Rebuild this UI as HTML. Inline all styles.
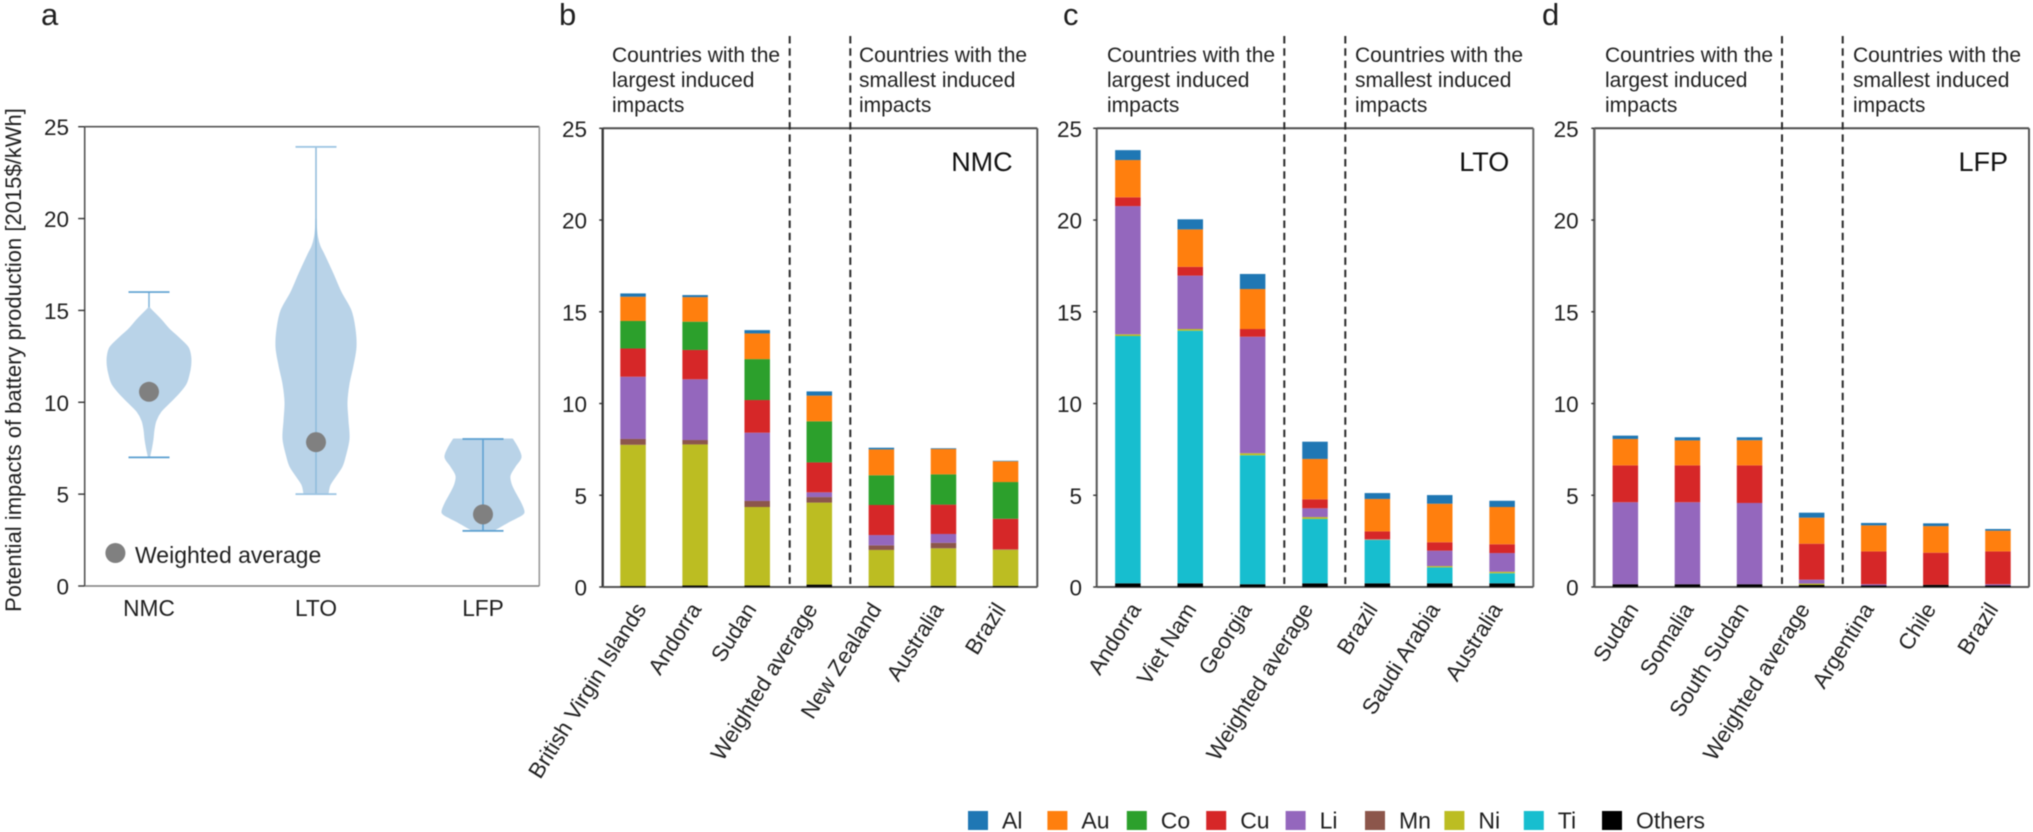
<!DOCTYPE html>
<html lang="en">
<head>
<meta charset="utf-8">
<title>Potential impacts of battery production</title>
<style>
html,body{margin:0;padding:0;background:#fff;}
svg{display:block;filter:blur(0.5px);}
text{font-family:"Liberation Sans",sans-serif;fill:#1f1f1f;}
</style>
</head>
<body>
<svg id="chart" xmlns="http://www.w3.org/2000/svg" width="2033" height="832" viewBox="0 0 2033 832">
  <rect width="2033" height="832" fill="#ffffff"/>
  <g id="static-text">
    <text x="41" y="25" font-size="31">a</text>
    <text x="559" y="25" font-size="31">b</text>
    <text x="1063" y="25" font-size="31">c</text>
    <text x="1542" y="25" font-size="31">d</text>
    <text transform="translate(21,360) rotate(-90)" text-anchor="middle" font-size="22">Potential impacts of battery production [2015$/kWh]</text>
    <text x="135" y="563" font-size="23">Weighted average</text>
    <g font-size="21">
      <text x="612" y="62">Countries with the</text><text x="612" y="87">largest induced</text><text x="612" y="112">impacts</text>
      <text x="859" y="62">Countries with the</text><text x="859" y="87">smallest induced</text><text x="859" y="112">impacts</text>
    </g>
    <g font-size="21">
      <text x="1107" y="62">Countries with the</text><text x="1107" y="87">largest induced</text><text x="1107" y="112">impacts</text>
      <text x="1355" y="62">Countries with the</text><text x="1355" y="87">smallest induced</text><text x="1355" y="112">impacts</text>
    </g>
    <g font-size="21">
      <text x="1605" y="62">Countries with the</text><text x="1605" y="87">largest induced</text><text x="1605" y="112">impacts</text>
      <text x="1853" y="62">Countries with the</text><text x="1853" y="87">smallest induced</text><text x="1853" y="112">impacts</text>
    </g>
    <text x="1012.7" y="171" text-anchor="end" font-size="27" style="fill:#111">NMC</text>
    <text x="1509.3" y="171" text-anchor="end" font-size="27" style="fill:#111">LTO</text>
    <text x="2008" y="171" text-anchor="end" font-size="27" style="fill:#111">LFP</text>
  </g>
</svg>
<script>
// Shared axis values
const yTicks = [0, 5, 10, 15, 20, 25];

// Panel a: violin plot
const violinCategories = ['NMC', 'LTO', 'LFP'];
const violinMin = [7, 5, 3];
const violinMax = [16, 23.9, 8];
const weightedAverages = [10.57, 7.83, 3.9];
const nmcDensityValues = [7, 7.5, 8, 8.5, 9, 9.5, 10, 10.5, 11, 11.5, 12, 12.5, 13, 13.5, 14, 14.5, 15, 15.15];
const nmcDensityWidths = [0.5, 2.5, 4, 5, 7, 12, 21, 30, 37, 40, 41.7, 41.7, 39, 30, 20, 12, 3, 0.5];
const ltoDensityValues = [5, 5.5, 6, 6.5, 7, 8, 9, 10, 11, 12, 13, 14, 15, 16, 17, 18, 18.5, 19, 19.5, 20];
const ltoDensityWidths = [12, 14, 20, 26, 29, 33, 32, 31, 33, 37, 40, 39, 35, 25, 17, 8.5, 4, 1.5, 0.5, 0.2];
const lfpDensityValues = [3, 3.5, 3.75, 4, 4.5, 5, 5.5, 6, 6.5, 7, 7.5, 8];
const lfpDensityWidths = [10, 26, 35, 41, 38, 33, 28.5, 27, 32, 38, 35, 29.5];

// Panel b: NMC
const nmcCountries = ['British Virgin Islands', 'Andorra', 'Sudan', 'Weighted average', 'New Zealand', 'Australia', 'Brazil'];
const nmcOthers = [0.05, 0.08, 0.08, 0.13, 0.06, 0.06, 0.06];
const nmcTi = [0, 0, 0, 0, 0, 0, 0];
const nmcNi = [7.7, 7.69, 4.28, 4.47, 1.96, 2.05, 1.97];
const nmcMn = [0.32, 0.24, 0.33, 0.3, 0.25, 0.3, 0.02];
const nmcLi = [3.39, 3.31, 3.72, 0.26, 0.56, 0.48, 0];
const nmcCu = [1.54, 1.6, 1.78, 1.63, 1.64, 1.6, 1.67];
const nmcCo = [1.5, 1.54, 2.23, 2.24, 1.62, 1.65, 2.0];
const nmcAu = [1.32, 1.34, 1.4, 1.4, 1.41, 1.38, 1.13];
const nmcAl = [0.18, 0.11, 0.18, 0.23, 0.09, 0.04, 0.03];

// Panel c: LTO
const ltoCountries = ['Andorra', 'Viet Nam', 'Georgia', 'Weighted average', 'Brazil', 'Saudi Arabia', 'Australia'];
const ltoOthers = [0.2, 0.2, 0.15, 0.2, 0.2, 0.2, 0.2];
const ltoTi = [13.48, 13.77, 7.03, 3.51, 2.36, 0.87, 0.55];
const ltoNi = [0.09, 0.09, 0.11, 0.1, 0.02, 0.07, 0.08];
const ltoMn = [0, 0, 0, 0, 0, 0, 0];
const ltoLi = [6.99, 2.91, 6.35, 0.48, 0.02, 0.84, 1.02];
const ltoCu = [0.48, 0.48, 0.42, 0.49, 0.43, 0.46, 0.48];
const ltoCo = [0, 0, 0, 0, 0, 0, 0];
const ltoAu = [2.03, 2.04, 2.18, 2.2, 1.77, 2.1, 2.03];
const ltoAl = [0.54, 0.55, 0.82, 0.94, 0.32, 0.47, 0.34];

// Panel d: LFP
const lfpCountries = ['Sudan', 'Somalia', 'South Sudan', 'Weighted average', 'Argentina', 'Chile', 'Brazil'];
const lfpOthers = [0.15, 0.15, 0.15, 0.11, 0.08, 0.12, 0.08];
const lfpTi = [0, 0, 0, 0, 0, 0, 0];
const lfpNi = [0, 0, 0, 0.07, 0, 0, 0];
const lfpMn = [0, 0, 0, 0.01, 0, 0, 0];
const lfpLi = [4.47, 4.47, 4.43, 0.21, 0.07, 0, 0.07];
const lfpCu = [2.01, 2.01, 2.05, 1.96, 1.79, 1.75, 1.79];
const lfpCo = [0, 0, 0, 0, 0, 0, 0];
const lfpAu = [1.44, 1.36, 1.37, 1.42, 1.42, 1.45, 1.13];
const lfpAl = [0.18, 0.17, 0.16, 0.27, 0.13, 0.15, 0.09];

// Legend
const legendMaterials = ['Al', 'Au', 'Co', 'Cu', 'Li', 'Mn', 'Ni', 'Ti', 'Others'];

const NS = 'http://www.w3.org/2000/svg';
const svg = document.getElementById('chart');
const materialColors = {Al:'#1f77b4', Au:'#ff7f0e', Co:'#2ca02c', Cu:'#d62728', Li:'#9467bd', Mn:'#8c564b', Ni:'#bcbd22', Ti:'#17becf', Others:'#000000'};

function make(tag, attrs, parent) {
  const el = document.createElementNS(NS, tag);
  for (const k in attrs) el.setAttribute(k, attrs[k]);
  (parent || svg).appendChild(el);
  return el;
}
function slug(s) { return s.toLowerCase().replace(/[^a-z0-9]+/g, '-'); }

// Smooth curve (Catmull-Rom) through a list of points, continuing an open path
function smoothSegment(pts) {
  let d = '';
  for (let i = 0; i < pts.length - 1; i++) {
    const p0 = pts[Math.max(0, i - 1)], p1 = pts[i], p2 = pts[i + 1], p3 = pts[Math.min(pts.length - 1, i + 2)];
    const c1x = p1[0] + (p2[0] - p0[0]) / 6, c1y = p1[1] + (p2[1] - p0[1]) / 6;
    const c2x = p2[0] - (p3[0] - p1[0]) / 6, c2y = p2[1] - (p3[1] - p1[1]) / 6;
    d += 'C' + c1x + ' ' + c1y + ' ' + c2x + ' ' + c2y + ' ' + p2[0] + ' ' + p2[1];
  }
  return d;
}

function drawFrame(frame, name, y) {
  const g = make('g', {});
  
  
  const lines = [
    [frame.left, frame.top, frame.right, frame.top, frame.topColor, frame.sw],
    [frame.left, frame.top, frame.left, frame.bottom, frame.leftColor, frame.leftSw],
    [frame.right, frame.top, frame.right, frame.bottom, frame.rightColor, frame.sw],
    [frame.left, frame.bottom, frame.right, frame.bottom, frame.bottomColor, frame.sw]
  ];
  lines.forEach(function (l) {
    const spine = make('line', {x1:l[0], y1:l[1], x2:l[2], y2:l[3], stroke:l[4], 'stroke-width':l[5]}, g);
    
    
  });
  yTicks.forEach(function (t) {
    const tick = make('line', {x1:frame.left - frame.tickLen, x2:frame.left, y1:y(t), y2:y(t), stroke:'#333', 'stroke-width':1.4}, g);
    
    
    const lab = make('text', {x:frame.labelX, y:y(t) + 8.5, 'text-anchor':'end', 'font-size':22.5}, g);
    lab.textContent = String(t);
    
    
  });
}

// ---------- Panel a ----------
(function () {
  const frame = {left:84.7, right:539.3, top:126.7, bottom:586, tickLen:6.5, labelX:69, sw:1.6, leftSw:1.6,
    topColor:'#555', leftColor:'#555', rightColor:'#9a9a9a', bottomColor:'#7c7c7c'};
  const y = function (v) { return frame.bottom - v * (frame.bottom - frame.top) / 25; };
  const x = function (i) { return 149 + 167 * i; };
  const profilesV = [nmcDensityValues, ltoDensityValues, lfpDensityValues];
  const profilesW = [nmcDensityWidths, ltoDensityWidths, lfpDensityWidths];
  const lineColors = ['#7fb3da', '#8fbbdb', '#5b9fd0'];
  const capColors = ['#5b9fd0', '#9cc4e2', '#5b9fd0'];

  drawFrame(frame, 'violin-panel', y);

  violinCategories.forEach(function (cat, i) {
    const g = make('g', {});
    
    
    const vals = profilesV[i], ws = profilesW[i];
    const leftPts = vals.map(function (v, k) { return [x(i) - ws[k], y(v)]; });
    const rightPts = vals.map(function (v, k) { return [x(i) + ws[k], y(v)]; }).reverse();
    const d = 'M' + leftPts[0][0] + ' ' + leftPts[0][1] + smoothSegment(leftPts) +
              'L' + rightPts[0][0] + ' ' + rightPts[0][1] + smoothSegment(rightPts) + 'Z';
    function addStem() {
      const stem = make('line', {x1:x(i), x2:x(i), y1:y(violinMin[i]), y2:y(violinMax[i]), stroke:lineColors[i], 'stroke-width':1.5}, g);
      
      
    }
    if (i === 0) addStem();
    const body = make('path', {d:d, fill:'#b9d3e8', stroke:'#b9d3e8', 'stroke-width':1, 'stroke-linejoin':'round'}, g);
    
    
    if (i !== 0) addStem();
    [violinMin[i], violinMax[i]].forEach(function (v) {
      const cap = make('line', {x1:x(i) - 20.5, x2:x(i) + 20.5, y1:y(v), y2:y(v), stroke:capColors[i], 'stroke-width':1.7}, g);
      
      
    });
    const dot = make('circle', {cx:x(i), cy:y(weightedAverages[i]), r:10, fill:'#808080'}, g);
    
    
    const lab = make('text', {x:x(i), y:616, 'text-anchor':'middle', 'font-size':22.7});
    lab.textContent = cat;
    
    
  });
  const legendDot = make('circle', {cx:115.4, cy:553, r:10, fill:'#808080'});
  
  
})();

// ---------- Stacked panels ----------
function drawStack(cfg) {
  const f = cfg.frame;
  const y = function (v) { return f.bottom - v * (f.bottom - f.top) / 25; };
  const step = (f.right - f.left) / 7;
  const x = function (i) { return f.left + (i + 0.5) * step + f.shift; };
  const labelNudge = [14, 7, 0, -1, 1, 1, 1];
  drawFrame(f, cfg.name, y);

  cfg.dashes.forEach(function (dx, i) {
    const dash = make('line', {x1:dx, x2:dx, y1:36, y2:584, stroke:'#2a2a2a', 'stroke-width':2, 'stroke-dasharray':'7.5 4.8'});
    
    
  });

  const stackOrder = ['Others', 'Ti', 'Ni', 'Mn', 'Li', 'Cu', 'Co', 'Au', 'Al'];
  cfg.countries.forEach(function (country, i) {
    const g = make('g', {});
    
    
    let cum = 0;
    stackOrder.forEach(function (m) {
      const v = cfg.series[m][i];
      if (v <= 0) return;
      const rect = make('rect', {x:x(i) - 12.75, width:25.5, y:y(cum + v), height:y(cum) - y(cum + v), fill:materialColors[m]}, g);
      
      
      cum += v;
    });
    const ax = x(i) + labelNudge[i];
    const ay = 609;
    const lab = make('text', {transform:'translate(' + ax + ',' + ay + ') rotate(-58)', 'text-anchor':'end', 'font-size':22.3});
    lab.textContent = country;
    
    
  });
}

drawStack({
  name:'nmc-panel', countries:nmcCountries,
  series:{Others:nmcOthers, Ti:nmcTi, Ni:nmcNi, Mn:nmcMn, Li:nmcLi, Cu:nmcCu, Co:nmcCo, Au:nmcAu, Al:nmcAl},
  dashes:[789.7, 850.3],
  frame:{left:602.7, right:1037.3, top:128.3, bottom:587, shift:-0.7, tickLen:3.5, labelX:587, sw:2, leftSw:2.4,
    topColor:'#4d4d4d', leftColor:'#3c3c3c', rightColor:'#555', bottomColor:'#555'}
});
drawStack({
  name:'lto-panel', countries:ltoCountries,
  series:{Others:ltoOthers, Ti:ltoTi, Ni:ltoNi, Mn:ltoMn, Li:ltoLi, Cu:ltoCu, Co:ltoCo, Au:ltoAu, Al:ltoAl},
  dashes:[1284.3, 1345.3],
  frame:{left:1096.7, right:1533.3, top:128.3, bottom:587, shift:0, tickLen:3.5, labelX:1082, sw:2, leftSw:2,
    topColor:'#4d4d4d', leftColor:'#555', rightColor:'#666', bottomColor:'#555'}
});
drawStack({
  name:'lfp-panel', countries:lfpCountries,
  series:{Others:lfpOthers, Ti:lfpTi, Ni:lfpNi, Mn:lfpMn, Li:lfpLi, Cu:lfpCu, Co:lfpCo, Au:lfpAu, Al:lfpAl},
  dashes:[1782, 1842.7],
  frame:{left:1594.3, right:2029, top:128.3, bottom:587, shift:0, tickLen:3, labelX:1578.7, sw:2, leftSw:2.6,
    topColor:'#4d4d4d', leftColor:'#666', rightColor:'#555', bottomColor:'#555'}
});

// ---------- Legend ----------
(function () {
  const g = make('g', {});
  
  
  const swatchLeft = 968;
  const spacing = 79.4;
  legendMaterials.forEach(function (m, i) {
    const sx = i === 8 ? 1602 : swatchLeft + spacing * i;
    const swatch = make('rect', {x:sx, y:811, width:20, height:19, fill:materialColors[m]}, g);
    
    
    const label = make('text', {x:sx + 34, y:828.5, 'font-size':23}, g);
    label.textContent = m;
    
    
  });
})();
</script>
</body>
</html>
